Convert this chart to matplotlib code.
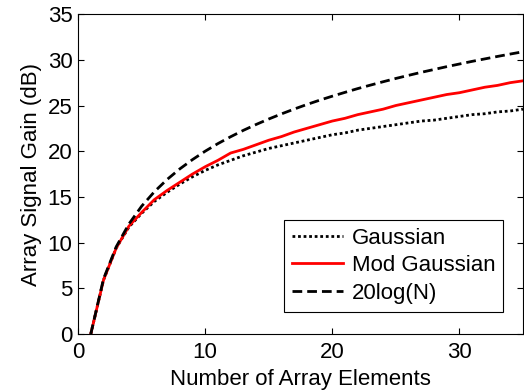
import matplotlib
matplotlib.use("Agg")
import matplotlib.pyplot as plt

plt.rcParams.update({"font.family": ["Liberation Sans", "DejaVu Sans"],
                     "font.size": 16})

# array size and gain curves (dB)
n_elements = list(range(1, 36))
gaussian = [0.0, 5.9, 9.4, 11.7, 13.2, 14.5, 15.5, 16.4, 17.2, 17.9,
            18.5, 19.0, 19.5, 19.9, 20.3, 20.6, 20.9, 21.2, 21.5, 21.8,
            22.0, 22.3, 22.5, 22.7, 22.9, 23.1, 23.3, 23.4, 23.6, 23.8,
            24.0, 24.1, 24.3, 24.4, 24.6]
mod_gaussian = [0.0, 5.9, 9.4, 11.8, 13.3, 14.7, 15.7, 16.6, 17.5, 18.3,
                19.0, 19.8, 20.2, 20.7, 21.2, 21.6, 22.1, 22.5, 22.9, 23.3,
                23.6, 24.0, 24.3, 24.6, 25.0, 25.3, 25.6, 25.9, 26.2, 26.4,
                26.7, 27.0, 27.2, 27.5, 27.7]
ideal_20logn = [0.00, 6.02, 9.54, 12.04, 13.98, 15.56, 16.90, 18.06, 19.08,
                20.00, 20.83, 21.58, 22.28, 22.92, 23.52, 24.08, 24.61, 25.11,
                25.58, 26.02, 26.44, 26.85, 27.23, 27.60, 27.96, 28.30, 28.63,
                28.94, 29.25, 29.54, 29.83, 30.10, 30.37, 30.63, 30.88]

fig = plt.figure(figsize=(5.24, 3.92), dpi=100)
ax = fig.add_axes([0.149, 0.148, 0.849, 0.816])

ax.plot(n_elements, gaussian, ls=(0, (1, 1)), color="black", lw=2, label="Gaussian")
ax.plot(n_elements, mod_gaussian, ls="-", color="red", lw=2, label="Mod Gaussian")
ax.plot(n_elements, ideal_20logn, ls=(0, (3.5, 1.8)), color="black", lw=2, label="20log(N)")

ax.set_xlim(0, 35); ax.set_ylim(0, 35)
ax.set_xticks([0, 10, 20, 30]); ax.set_yticks(range(0, 36, 5))
ax.tick_params(direction="in", top=True, right=True, length=4, width=0.8, pad=4)
ax.tick_params(axis="x", pad=6)
ax.set_xlabel("Number of Array Elements", labelpad=4)
ax.set_ylabel("Array Signal Gain (dB)", labelpad=4)

leg = ax.legend(loc="lower right", bbox_to_anchor=(0.98, 0.035), fancybox=False,
                framealpha=1, edgecolor="black", handlelength=2.3,
                borderpad=0.35, labelspacing=0.3, handletextpad=0.4)
leg.get_frame().set_linewidth(0.8)

fig.savefig("out.png", dpi=100)
